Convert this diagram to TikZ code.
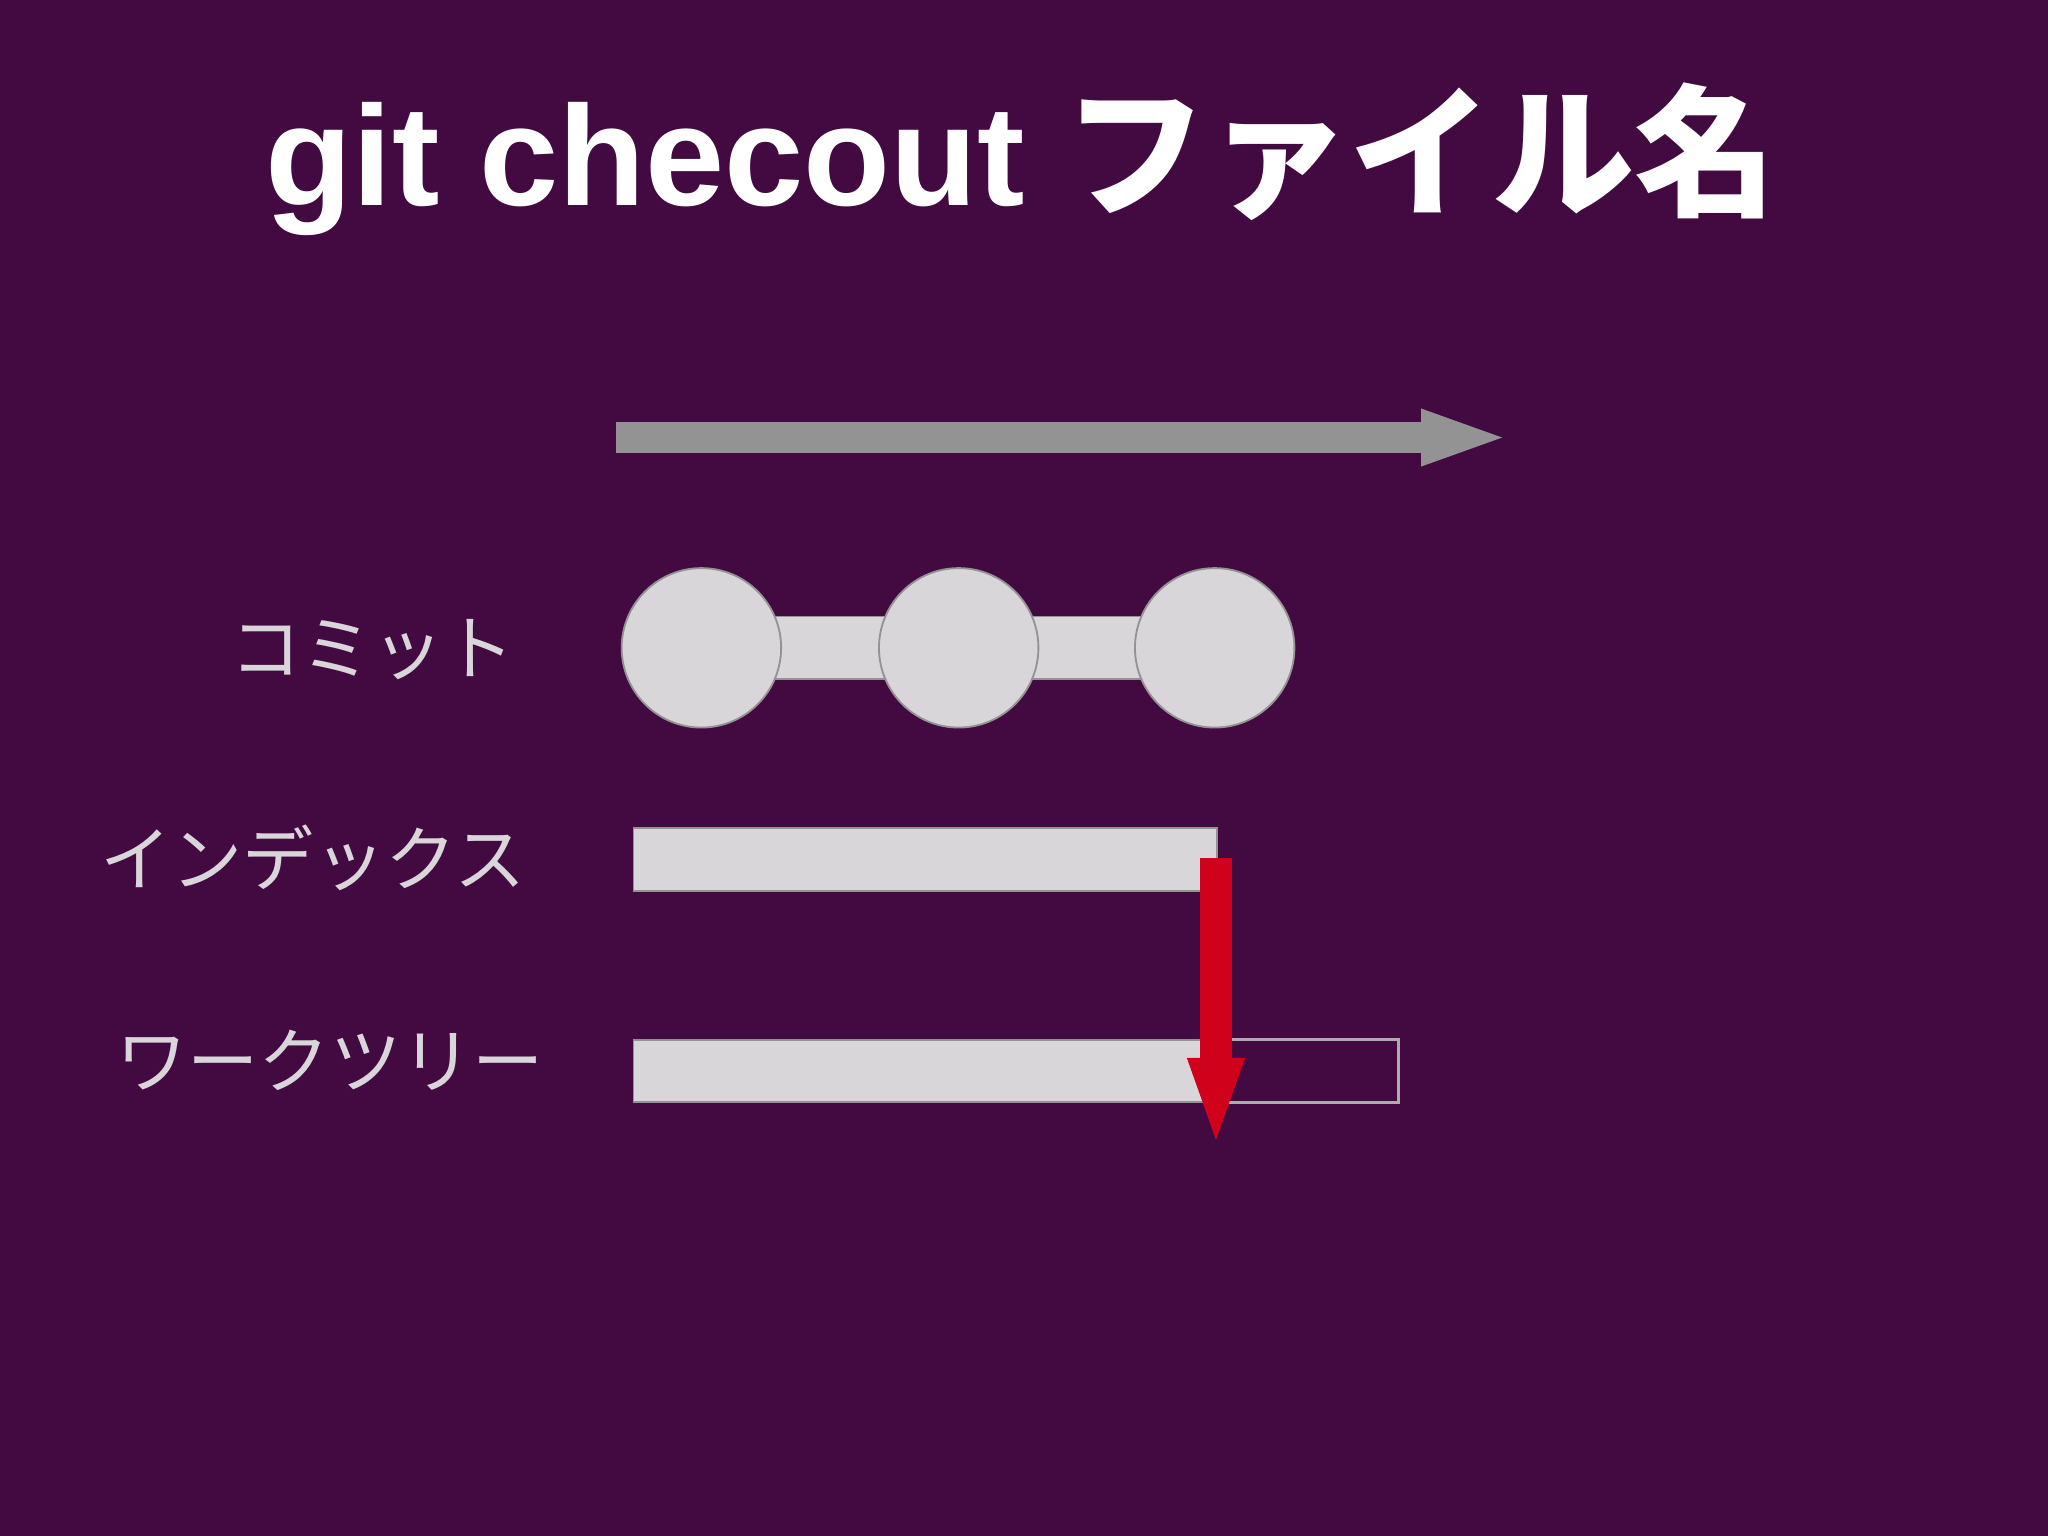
\documentclass[tikz,border=0pt]{standalone}
\usepackage{fontspec}
\setmainfont{Liberation Sans}
\newfontfamily\jp{Noto Sans CJK JP}
\newfontfamily\jpb{Noto Sans CJK JP Bold}
\usetikzlibrary{arrows.meta}
\definecolor{bg}{HTML}{420A40}
\definecolor{lg}{HTML}{D8D6D8}
\definecolor{ag}{HTML}{939393}
\definecolor{rd}{HTML}{D0021B}
\tikzset{
  lbl/.style={anchor=east,text=lg,font=\jp\fontsize{15.5pt}{18pt}\selectfont,inner sep=0},
  bar/.style={fill=lg,draw=ag,line width=0.4pt},
  cmt/.style={circle,fill=lg,draw=ag,line width=0.4pt,minimum size=1.22cm,inner sep=0}
}
\begin{document}
\begin{tikzpicture}[x=0.01cm,y=-0.01cm]
\fill[bg] (0,0) rectangle (1568,1176);
\useasboundingbox (0,0) rectangle (1568,1176);
\node[text=white,font=\bfseries\fontsize{31pt}{36pt}\selectfont] (title) at (782,122) {git checout {\jpb ファイル名}};
\coordinate (as) at (472,335); \coordinate (ae) at (1157,335);
\draw[ag,line width=0.24cm,-{Triangle[length=0.69cm,width=0.38cm]}] (as) -- (ae);
\fill[lg,draw=ag,line width=0.4pt] (590,472) rectangle (875,520);
\node[cmt] (c1) at (537,496) {};
\node[cmt] (c2) at (734,496) {};
\node[cmt] (c3) at (930,496) {};
\node[lbl] (l1) at (395,497) {コミット};
\node[lbl] (l2) at (403,657) {インデックス};
\node[lbl] (l3) at (417,812) {ワークツリー};
\draw[bar] (485,634) rectangle (932,682);
\draw[bar] (485,796) rectangle (932,844);
\draw[lg!80!black,line width=0.6pt] (932,796) rectangle (1071,844);
\coordinate (rs) at (931,657); \coordinate (re) at (931,880);
\draw[rd,line width=0.24cm,-{Triangle[length=0.7cm,width=0.38cm]}] (rs) -- (re);
\end{tikzpicture}
\end{document}
